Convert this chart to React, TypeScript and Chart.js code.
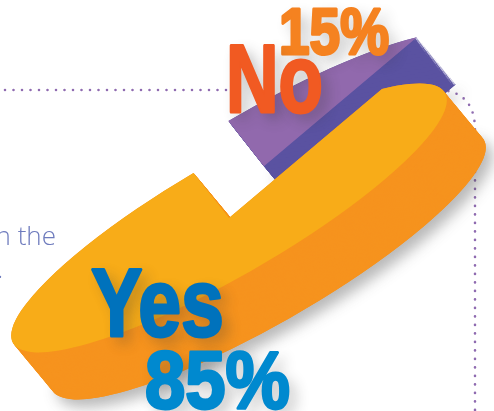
import React, { useEffect, useRef } from "react";
import { Chart, registerables } from "chart.js";

Chart.register(...registerables);

const categories = ["No", "Yes"];
const shares = [15, 85];
const topColors = ["#9169ad", "#f8ac18"];
const sideColors = ["#5a52a1", "#f6931e"];
const explode = [0.53, 0];
const labelColors = { No: "#f15a22", "15%": "#f58220", Yes: "#0072bc", "85%": "#0089cf" };

const fragmentText = "n the";

// projection of the flat pie onto the tilted disc
const center = { x: 229, y: 218 };
const axisA = { x: 216, y: -125 };
const axisB = { x: 28, y: 49.5 };
const depth = { x: 39, y: 47 };

function App() {
  const ref = useRef<HTMLCanvasElement>(null);
  useEffect(() => {
    const tilted = {
      id: "tilted",
      beforeDraw(chart: any) {
        const ctx = chart.ctx;
        ctx.save();
        ctx.strokeStyle = "#8f6bb0";
        ctx.lineWidth = 2.6;
        ctx.lineCap = "round";
        ctx.setLineDash([0, 8.5]);
        ctx.beginPath();
        ctx.moveTo(5, 90);
        ctx.lineTo(240, 90);
        ctx.moveTo(440, 90);
        ctx.quadraticCurveTo(475, 92, 475, 130);
        ctx.lineTo(475, 411);
        ctx.stroke();
        ctx.restore();

        ctx.save();
        ctx.fillStyle = "#6e7bbd";
        ctx.font = "300 26px 'Open Sans', sans-serif";
        ctx.textAlign = "right";
        ctx.fillText(fragmentText, 56, 245);
        ctx.textAlign = "left";
        ctx.fillText(".", -3, 278);
        ctx.restore();
      },
      beforeDatasetsDraw(chart: any) {
        const ctx = chart.ctx;
        const arcs = chart.getDatasetMeta(0).data;
        const paint = (el: any, i: number, dx: number, dy: number, color: string) => {
          const R = el.outerRadius;
          const mid = (el.startAngle + el.endAngle) / 2;
          const ex = Math.cos(mid) * explode[i];
          const ey = Math.sin(mid) * explode[i];
          ctx.save();
          ctx.translate(
            center.x + dx + axisA.x * ex + axisB.x * ey,
            center.y + dy + axisA.y * ex + axisB.y * ey
          );
          ctx.transform(axisA.x / R, axisA.y / R, axisB.x / R, axisB.y / R, 0, 0);
          ctx.translate(-el.x, -el.y);
          const saved = el.options;
          el.options = { ...saved, backgroundColor: color, borderWidth: 0 };
          el.draw(ctx);
          el.options = saved;
          ctx.restore();
        };
        arcs.forEach((el: any, i: number) => {
          const steps = 50;
          ctx.save();
          ctx.shadowColor = "rgba(70,70,70,0.38)";
          ctx.shadowBlur = 14;
          ctx.shadowOffsetX = 7;
          ctx.shadowOffsetY = 8;
          paint(el, i, depth.x, depth.y, sideColors[i]);
          ctx.restore();
          for (let s = steps; s >= 0; s--) {
            paint(el, i, (depth.x * s) / steps, (depth.y * s) / steps, sideColors[i]);
          }
          paint(el, i, 0, 0, topColors[i]);
        });
        return false;
      },
      afterDraw(chart: any) {
        const ctx = chart.ctx;
        const place = [
          { text: `${shares[0]}%`, x: 279, y: 54, size: 64, w: 110 },
          { text: categories[0], x: 226, y: 112, size: 96, w: 97 },
          { text: categories[1], x: 91, y: 336, size: 97, w: 133 },
          { text: `${shares[1]}%`, x: 145, y: 408, size: 82, w: 145 },
        ];
        place.forEach((p) => {
          ctx.save();
          ctx.font = `bold ${p.size}px 'Liberation Sans', Arial, sans-serif`;
          const natural = ctx.measureText(p.text).width;
          ctx.translate(p.x, p.y);
          ctx.scale(p.w / natural, 1);
          ctx.shadowColor = "rgba(50,50,50,0.32)";
          ctx.shadowBlur = 14;
          ctx.shadowOffsetX = 7;
          ctx.shadowOffsetY = 7;
          ctx.fillStyle = (labelColors as any)[p.text];
          ctx.strokeStyle = (labelColors as any)[p.text];
          ctx.lineWidth = 3;
          ctx.lineJoin = "round";
          ctx.fillText(p.text, 0, 0);
          ctx.shadowColor = "transparent";
          ctx.strokeText(p.text, 0, 0);
          ctx.fillText(p.text, 0, 0);
          ctx.restore();
        });
      },
    };
    const chart = new Chart(ref.current!, {
      type: "pie",
      data: {
        labels: categories,
        datasets: [{ data: shares, backgroundColor: topColors, borderWidth: 0 }],
      },
      options: {
        responsive: false,
        animation: false,
        rotation: -2,
        plugins: { legend: { display: false }, tooltip: { enabled: false } },
        layout: { padding: 0 },
      },
      plugins: [tilted],
    });
    return () => chart.destroy();
  }, []);
  return (
    <canvas
      ref={ref}
      width={494}
      height={411}
      style={{ position: "fixed", left: 0, top: 0, width: 494, height: 411, display: "block" }}
    />
  );
}

export default App;
